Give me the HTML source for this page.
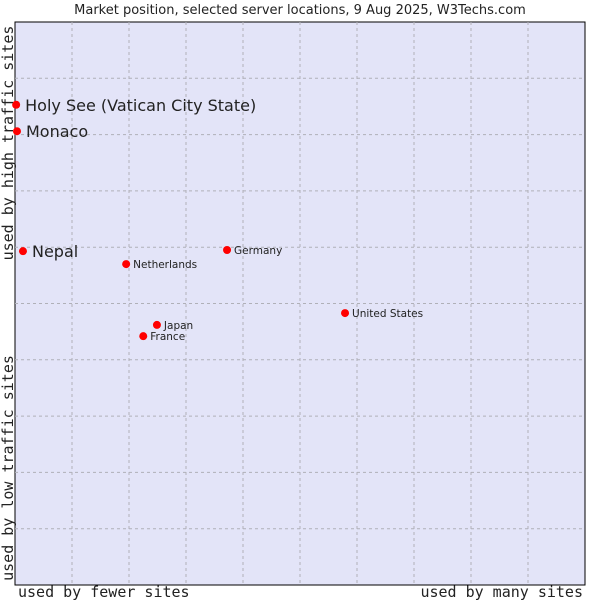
<!DOCTYPE html>
<html><head><meta charset="utf-8"><style>
body{margin:0;background:#fff;width:600px;height:600px;overflow:hidden}
svg text{font-family:"DejaVu Sans","Liberation Sans",sans-serif;fill:#222}
.mono{font-family:'DejaVu Sans Mono',monospace}
</style></head><body>
<svg width="600" height="600">
<text x="300" y="14" text-anchor="middle" font-size="13">Market position, selected server locations, 9 Aug 2025, W3Techs.com</text>
<rect x="15" y="22" width="570" height="563" fill="#e3e4f8" stroke="#000" stroke-width="1"/>
<g id="grid"></g>
<g id="pts"></g>
<text transform="translate(13,143) rotate(-90)" text-anchor="middle" font-size="15" class="mono" style="font-family:'DejaVu Sans Mono',monospace">used by high traffic sites</text>
<text transform="translate(13,468) rotate(-90)" text-anchor="middle" font-size="15" style="font-family:'DejaVu Sans Mono',monospace">used by low traffic sites</text>
<text x="18" y="597" font-size="15" style="font-family:'DejaVu Sans Mono',monospace">used by fewer sites</text>
<text x="583" y="597" text-anchor="end" font-size="15" style="font-family:'DejaVu Sans Mono',monospace">used by many sites</text>
</svg>
<script>
const names=["Holy See (Vatican City State)","Monaco","Nepal","Netherlands","Germany","United States","Japan","France"];
const xVals=[0.2,0.35,1.4,19.5,37.2,57.9,24.9,22.5];
const yVals=[85.3,80.6,59.3,57.0,59.5,48.3,46.2,44.2];
const big=[true,true,true,false,false,false,false,false];
const L=15,T=22,W=570,H=563;
const sx=v=>L+v/100*W, sy=v=>T+H-v/100*H;
const ns="http://www.w3.org/2000/svg";
const g=document.getElementById('grid');
for(let i=1;i<10;i++){
 const a=document.createElementNS(ns,'line');
 
 
 a.setAttribute('x1',sx(i*10));a.setAttribute('x2',sx(i*10));a.setAttribute('y1',T);a.setAttribute('y2',T+H);
 a.setAttribute('stroke','#b0b0b8');a.setAttribute('stroke-dasharray','3,3');g.appendChild(a);
 const b=document.createElementNS(ns,'line');
 
 
 b.setAttribute('y1',sy(i*10));b.setAttribute('y2',sy(i*10));b.setAttribute('x1',L);b.setAttribute('x2',L+W);
 b.setAttribute('stroke','#b0b0b8');b.setAttribute('stroke-dasharray','3,3');g.appendChild(b);
}
const p=document.getElementById('pts');
names.forEach((n,i)=>{
 const x=sx(xVals[i]),y=sy(yVals[i]);
 const c=document.createElementNS(ns,'circle');
 
 
 c.setAttribute('cx',x);c.setAttribute('cy',y);c.setAttribute('r',4);c.setAttribute('fill','#f00');p.appendChild(c);
 const t=document.createElementNS(ns,'text');
 
 
 t.setAttribute('x',x+(big[i]?9:7));t.setAttribute('y',y+(big[i]?6:4));
 t.setAttribute('font-size',big[i]?16:10.5);t.textContent=n;p.appendChild(t);
});
</script>
</body></html>
